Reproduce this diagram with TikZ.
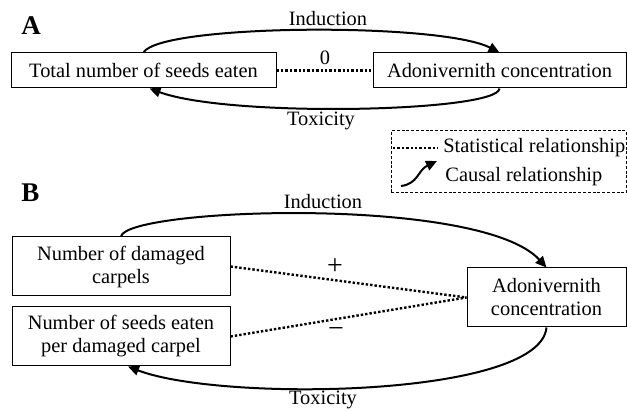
\documentclass[tikz,border=0pt]{standalone}
\usepackage{fontspec}
\setmainfont{Liberation Serif}
\usetikzlibrary{arrows.meta}
\begin{document}
\begin{tikzpicture}[x=0.5pt,y=-0.5pt,
  box/.style={draw,line width=0.5pt,inner sep=0pt,align=center,font=\fontsize{10.2}{11.5}\selectfont},
  lbl/.style={inner sep=0pt,font=\fontsize{10.2}{11.5}\selectfont},
  sign/.style={inner sep=0pt,font=\fontsize{14}{15}\selectfont},
  panel/.style={inner sep=0pt,font=\fontsize{13.5}{15}\selectfont\bfseries,anchor=base west},
  causal/.style={line width=1pt,-{Triangle[length=5.5pt,width=5pt]}},
  stat/.style={line width=1.2pt,dash pattern=on 1.2pt off 1pt},
  legendbox/.style={draw,line width=0.5pt,dash pattern=on 1.5pt off 0.9pt,inner sep=0pt},
]
\useasboundingbox (0,0) rectangle (627,411);

% Panel A
\node[panel] (A) at (21,35) {A};
\node[box,minimum width=132.5pt,minimum height=17.5pt] (tot) at (143.5,70.5) {Total number of seeds eaten};
\node[box,minimum width=126.5pt,minimum height=17.5pt] (adoA) at (499.5,70.5) {Adonivernith concentration};
\node[lbl,anchor=base] (indA) at (328,26) {Induction};
\node[lbl,anchor=base] (toxA) at (321,126) {Toxicity};
\node[lbl,anchor=base] (zero) at (325,65) {0};

\draw[causal] (tot.north) .. controls (160,24) and (440,22) .. (adoA.north);
\draw[causal] (adoA.south) .. controls (498,112) and (230,118) .. ([xshift=3pt]tot.south);
\draw[stat] (tot.east) -- (adoA.west);

% Legend
\node[legendbox,minimum width=117.5pt,minimum height=31pt] (legend) at (508.5,162) {};
\coordinate (s1) at (393,148);
\coordinate (s2) at (438,148);
\draw[stat] (s1) -- (s2);
\node[lbl,anchor=west] (stxt) at (443,148) {Statistical relationship};
\coordinate (c1) at (401,186);
\coordinate (c2) at (437,161);
\draw[causal] (c1) .. controls (418,184) and (418,170) .. (c2);
\node[lbl,anchor=west] (ctxt) at (445,177) {Causal relationship};

% Panel B
\node[panel] (B) at (21,202) {B};
\node[box,minimum width=109pt,minimum height=29.5pt] (dam) at (121,266.5) {Number of damaged\\carpels};
\node[box,minimum width=109pt,minimum height=29.5pt] (see) at (121,336.5) {Number of seeds eaten\\per damaged carpel};
\node[box,minimum width=79.5pt,minimum height=29.5pt] (adoB) at (546.5,297.5) {Adonivernith\\concentration};
\node[lbl,anchor=base] (indB) at (323,209) {Induction};
\node[lbl,anchor=base] (toxB) at (323,405) {Toxicity};
\node[sign] (plus) at (335,267) {+};
\node[sign] (minus) at (336,333) {−};

\draw[causal] (dam.north) .. controls (126,208) and (480,195) .. (adoB.north);
\draw[causal] (adoB.south) .. controls (540,398) and (220,402) .. ([xshift=3.5pt]see.south);
\draw[stat] (dam.east) -- (adoB.west);
\draw[stat] (see.east) -- (adoB.west);
\end{tikzpicture}
\end{document}
